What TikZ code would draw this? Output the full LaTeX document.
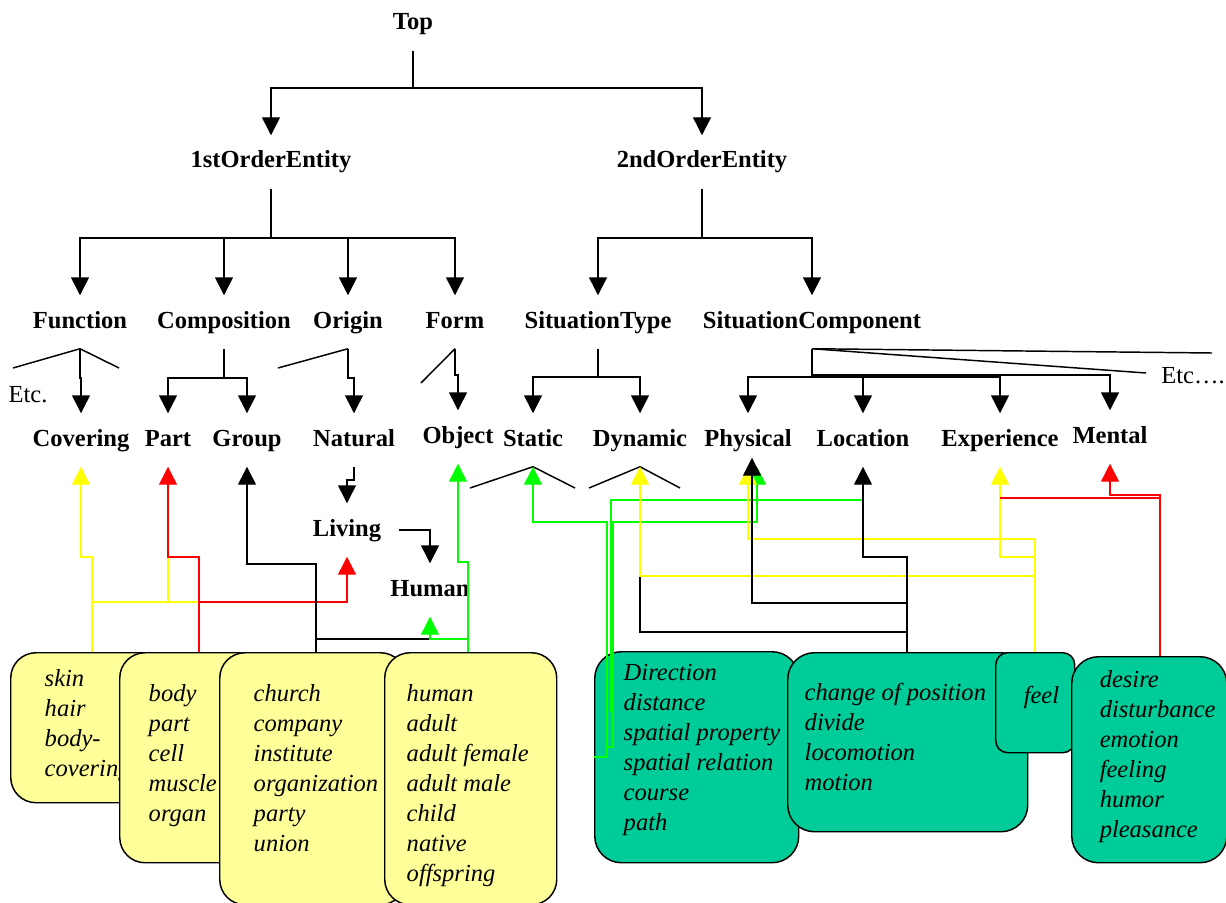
\documentclass[tikz,border=0pt]{standalone}
\usepackage{fontspec}
\setmainfont{Liberation Serif}
\usetikzlibrary{arrows.meta}

\definecolor{lnyellow}{RGB}{255,255,0}
\definecolor{lnred}{RGB}{255,0,0}
\definecolor{lngreen}{RGB}{0,255,0}
\definecolor{boxyellow}{RGB}{255,255,153}
\definecolor{boxteal}{RGB}{0,204,153}

\tikzset{every picture/.style={line width=1.1pt}}
\tikzset{
  lbl/.style={font=\fontsize{18.4}{22}\selectfont\bfseries, inner sep=0pt, text height=13pt, text depth=4pt, minimum height=39pt},
  etc/.style={font=\fontsize{18.4}{22}\selectfont, inner sep=0pt},
  ybox/.style={draw, rounded corners=19pt, fill=boxyellow, anchor=north west, inner sep=0pt},
  gbox/.style={draw, rounded corners=20pt, fill=boxteal, anchor=north west, inner sep=0pt},
  words/.style={font=\fontsize{18.4}{22.5}\selectfont\itshape, align=left, anchor=north west, inner sep=0pt},
  down/.style={-{Triangle[width=13.5pt,length=13.5pt]}},
  up/.style={-{Triangle[width=13.5pt,length=13.5pt]}},
}

\begin{document}
\begin{tikzpicture}[x=0.75pt,y=0.75pt,yscale=-1,xscale=1]
	\useasboundingbox (0,0) rectangle (1226,902);

	% Text Node
	\node[lbl] (top) at (413,24) {Top};
	\node[lbl] (first) at (271,162) {1stOrderEntity};
	\node[lbl] (second) at (702,162) {2ndOrderEntity};
	% Text Node
	\node[lbl] (func) at (80,322) {Function};
	\node[lbl] (comp) at (224,322) {Composition};
	\node[lbl] (orig) at (348,322) {Origin};
	\node[lbl] (form) at (455,322) {Form};
	\node[lbl] (stype) at (598,322) {SituationType};
	\node[lbl] (scomp) at (812,322) {SituationComponent};
	% Text Node
	\node[lbl] (cover) at (81,440) {Covering};
	\node[lbl] (part) at (168,440) {Part};
	\node[lbl] (group) at (247,440) {Group};
	\node[lbl] (natural) at (354,440) {Natural};
	\node[lbl] (object) at (458,437) {Object};
	\node[lbl] (static) at (533,440) {Static};
	\node[lbl] (dynamic) at (640,440) {Dynamic};
	\node[lbl] (physical) at (748,440) {Physical};
	\node[lbl] (location) at (863,440) {Location};
	\node[lbl] (exper) at (1000,440) {Experience};
	\node[lbl] (mental) at (1110,437) {Mental};
	\node[lbl] (living) at (347,530) {Living};
	\node[lbl] (human) at (430,590) {Human};
	\node[etc] (etcl) at (28,395) {Etc.};
	\node[etc] (etcr) at (1193,376) {Etc….};

	%Straight Lines
	\draw (top.south) -- (413,88);
	\draw[down] (413,88) -| (first.north);
	\draw[down] (413,88) -| (second.north);
	\draw (first.south) -- (271,238);
	\draw[down] (271,238) -| (func.north);
	\draw[down] (271,238) -| (comp.north);
	\draw[down] (271,238) -| (orig.north);
	\draw[down] (271,238) -| (form.north);
	\draw (second.south) -- (702,238);
	\draw[down] (702,238) -| (stype.north);
	\draw[down] (702,238) -| (scomp.north);

	%Straight Lines
	\draw (func.south) -- (13,368);
	\draw (func.south) -- (119,368);
	\draw[down] (func.south) -- (80,378) -| (cover.north);
	\draw (comp.south) -- (224,378);
	\draw[down] (224,378) -| (part.north);
	\draw[down] (224,378) -| (group.north);
	\draw (orig.south) -- (278,368);
	\draw[down] (orig.south) -- (348,378) -| (natural.north);
	\draw (form.south) -- (421,383);
	\draw[down] (form.south) -- (455,375) -| (object.north);
	\draw[down] (natural.south) -- (354,480) -| (living.north);
	\draw[down] ([xshift=13pt]living.east) -| (human.north);

	%Straight Lines
	\draw (stype.south) -- (598,377);
	\draw[down] (598,377) -| (static.north);
	\draw[down] (598,377) -| (dynamic.north);
	\draw (static.south) -- (470,488);
	\draw (static.south) -- (575,488);
	\draw (dynamic.south) -- (589,488);
	\draw (dynamic.south) -- (680,488);
	\draw (scomp.south) -- (1212,353);
	\draw (scomp.south) -- (1146,373);
	\draw (scomp.south) -- (812,377);
	\draw[down] (812,377) -| (physical.north);
	\draw[down] (812,377) -| (location.north);
	\draw[down] (812,377) -| (exper.north);
	\draw[down] (812,375) -| (mental.north);

	%Shape: Rounded Rect
	\node[ybox, minimum width=116.25pt, minimum height=112.5pt] (skinbox) at (10,652) {};
	\node[words] (skintxt) at (44,669) {skin\\hair\\body-\\covering};
	\node[ybox, minimum width=107.25pt, minimum height=157.5pt] (bodybox) at (119,652) {};
	\node[words] (bodytxt) at (148,684) {body\\part\\cell\\muscle\\organ};
	\node[ybox, minimum width=139.5pt, minimum height=189pt] (churchbox) at (219,652) {};
	\node[words] (churchtxt) at (253,684) {church\\company\\institute\\organization\\party\\union};
	\node[ybox, minimum width=129pt, minimum height=189pt] (humanbox) at (384,652) {};
	\node[words] (humantxt) at (406,684) {human\\adult\\adult female\\adult male\\child\\native\\offspring};
	%Shape: Rounded Rect
	\node[gbox, minimum width=153pt, minimum height=158.25pt] (dirbox) at (594,651) {};
	\node[words] (dirtxt) at (623,664) {Direction\\distance\\spatial property\\spatial relation\\course\\path};
	\node[gbox, minimum width=180pt, minimum height=134.25pt] (movebox) at (787,652) {};
	\node[words] (movetxt) at (804,682) {change of position\\divide\\locomotion\\motion};
	\node[gbox, rounded corners=9pt, minimum width=59.25pt, minimum height=75pt] (feelbox) at (995,652) {};
	\node[words] (feeltxt) at (1023,685) {feel};
	\node[gbox, minimum width=116.25pt, minimum height=154.5pt] (desirebox) at (1071,656) {};
	\node[words] (desiretxt) at (1099,670) {desire\\disturbance\\emotion\\feeling\\humor\\pleasance};

	%Straight Lines
	\draw[lnyellow] (199,602) -- (92,602);
	\draw[lnyellow] (part |- 0,602) -- (part |- 0,557);
	\draw[up, lnyellow] (skinbox.north -| 92,0) |- (cover |- 0,557) -- (cover.south);
	\draw[up, lnred] (bodybox.north -| 199,0) |- (part |- 0,557) -- (part.south);
	\draw[up, lnred] (199,602) -| (living.south);
	\draw[up] (churchbox.north -| 316,0) |- (group |- 0,564) -- (group.south);
	\draw (316,639) -- (human |- 0,639);
	\draw[up, lngreen] (humanbox.north -| 468,0) |- (object |- 0,562) -- (object.south);
	\draw[up, lngreen] (468,639) -| (human.south);

	%Straight Lines
	\draw[up, lngreen] (dirbox.west |- 0,757) -| (607,522) -| (static.south);
	\draw[lngreen] (611,712) |- (location |- 0,500);
	\draw[up, lngreen] (605,747) -| (613,522) -| ([xshift=6.75pt]physical.south);
	\draw (907,632) -| (dynamic |- 0,576);
	\draw[up, lnyellow] (feelbox.north -| 1035,0) |- (dynamic |- 0,576) -- (dynamic.south);
	\draw[lnyellow] (1035,576) -- (1035,539);
	\draw[up, lnyellow] (1035,539) -| (physical.south);
	\draw[up, lnyellow] (1035,557) -| (exper.south);
	\draw[up] (movebox.north -| 907,0) |- (location |- 0,557) -- (location.south);
	\draw[up] (907,603) -| ([xshift=3pt,yshift=-6.75pt]physical.south);
	\draw[up, lnred] (desirebox.north -| 1160,0) |- (mental |- 0,495) -- (mental.south);
	\draw[lnred] (1160,498) -- (exper |- 0,498);

\end{tikzpicture}
\end{document}
